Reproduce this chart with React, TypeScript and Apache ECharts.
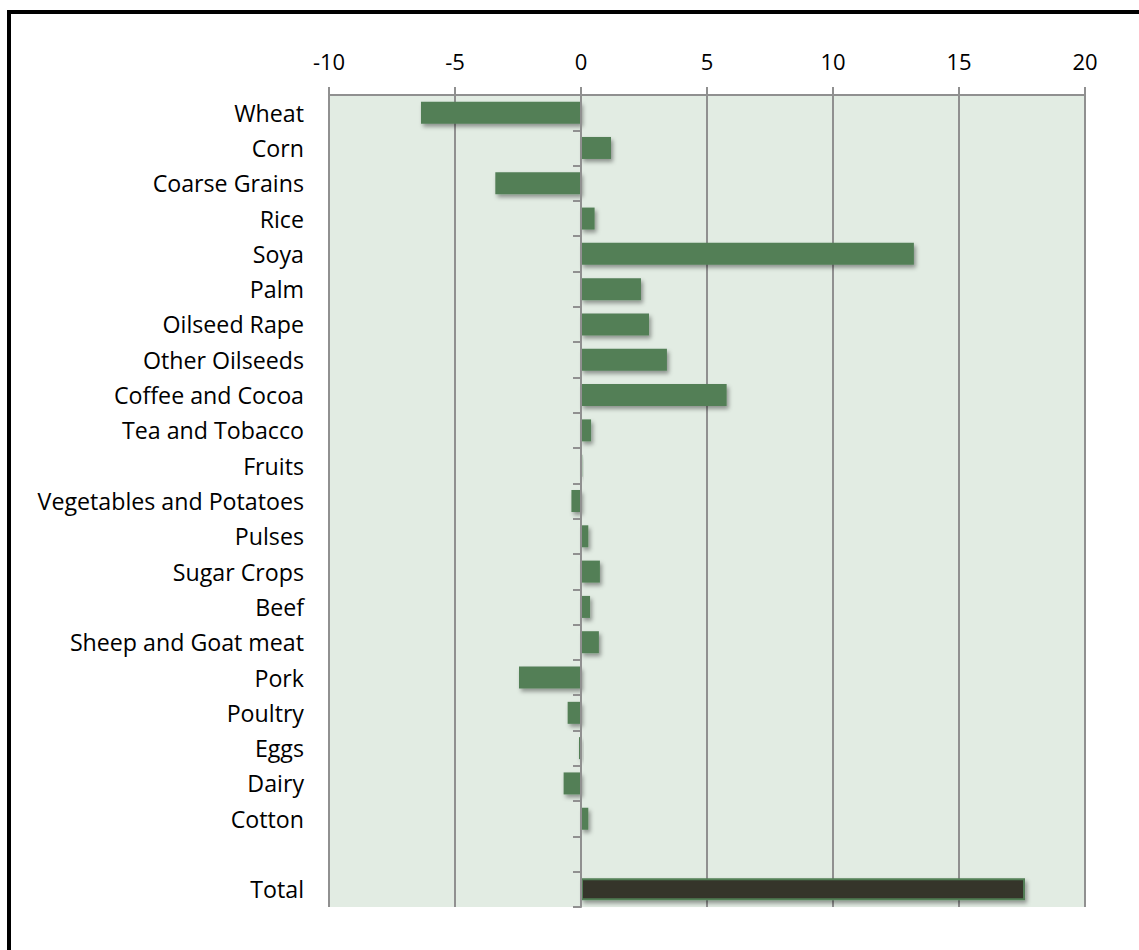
import React, { useEffect, useRef } from "react";
import * as echarts from "echarts";

// Change by commodity (per cent), drawn as horizontal bars
const commodities = [
  "Wheat",
  "Corn",
  "Coarse Grains",
  "Rice",
  "Soya",
  "Palm",
  "Oilseed Rape",
  "Other Oilseeds",
  "Coffee and Cocoa",
  "Tea and Tobacco",
  "Fruits",
  "Vegetables and Potatoes",
  "Pulses",
  "Sugar Crops",
  "Beef",
  "Sheep and Goat meat",
  "Pork",
  "Poultry",
  "Eggs",
  "Dairy",
  "Cotton",
];
const commodityValues = [
  -6.35, 1.19, -3.4, 0.54, 13.21, 2.38, 2.7, 3.41, 5.78, 0.4, 0.05, -0.38, 0.29,
  0.75, 0.36, 0.71, -2.46, -0.53, -0.08, -0.69, 0.29,
];
const totalLabel = "Total";
const totalValue = 17.62;

const xMin = -10;
const xMax = 20;
const xStep = 5;

const GREEN = "#527f56";
const DARK = "#34362a";
const GRID = "#909090";
const FONT = "'Open Sans', Lato, sans-serif";

export default function App() {
  const ref = useRef<HTMLDivElement>(null);

  useEffect(() => {
    if (!ref.current) return;
    const chart = echarts.init(ref.current, undefined, { renderer: "svg" });

    // a blank row separates the commodities from the total
    const categories = [...commodities, "", totalLabel];
    const barShadow = {
      shadowColor: "rgba(0,0,0,0.38)",
      shadowBlur: 4,
      shadowOffsetX: 2,
      shadowOffsetY: 3,
    };
    const data: any[] = [
      ...commodityValues.map((v) => ({ value: v })),
      { value: null },
      {
        value: totalValue,
        itemStyle: { color: DARK, borderColor: GREEN, borderWidth: 2 },
      },
    ];

    chart.setOption({
      animation: false,
      backgroundColor: "#ffffff",
      textStyle: { fontFamily: FONT },
      graphic: [
        {
          type: "polyline",
          shape: { points: [[9, 960], [9, 12], [1150, 12]] },
          style: { stroke: "#000", lineWidth: 4, fill: "none" },
          z: 10,
        },
      ],
      grid: {
        left: 329,
        right: 54,
        top: 95,
        bottom: 43,
        show: true,
        backgroundColor: "#e2ece3",
        borderWidth: 0,
      },
      xAxis: {
        type: "value",
        position: "top",
        min: xMin,
        max: xMax,
        interval: xStep,
        axisLine: { show: true, onZero: false, lineStyle: { color: GRID, width: 2 } },
        axisTick: { show: true, length: 8, lineStyle: { color: GRID, width: 2 } },
        splitLine: { show: true, lineStyle: { color: GRID, width: 2 } },
        axisLabel: { color: "#000", fontSize: 22, fontFamily: FONT, margin: 23 },
      },
      yAxis: [
        {
          type: "category",
          data: categories,
          inverse: true,
          axisLine: { show: false, onZero: false },
          axisTick: { show: false },
          axisLabel: {
            color: "#000",
            fontSize: 23.2,
            fontFamily: FONT,
            margin: 25,
            padding: [3, 0, 0, 0],
          },
          splitLine: { show: false },
        },
        {
          type: "category",
          data: categories,
          inverse: true,
          position: "left",
          z: 5,
          axisLine: {
            show: true,
            onZero: true,
            onZeroAxisIndex: 0,
            lineStyle: { color: GRID, width: 2 },
          },
          axisTick: { show: true, length: 8, lineStyle: { color: GRID, width: 2 } },
          axisLabel: { show: false },
          splitLine: { show: false },
        },
      ],
      series: [
        {
          type: "bar",
          yAxisIndex: 0,
          data,
          barWidth: 22,
          itemStyle: { color: GREEN, ...barShadow },
        },
      ],
    });

    return () => chart.dispose();
  }, []);

  return (
    <div
      ref={ref}
      style={{ position: "absolute", left: 0, top: 0, width: 1139, height: 950 }}
    />
  );
}
